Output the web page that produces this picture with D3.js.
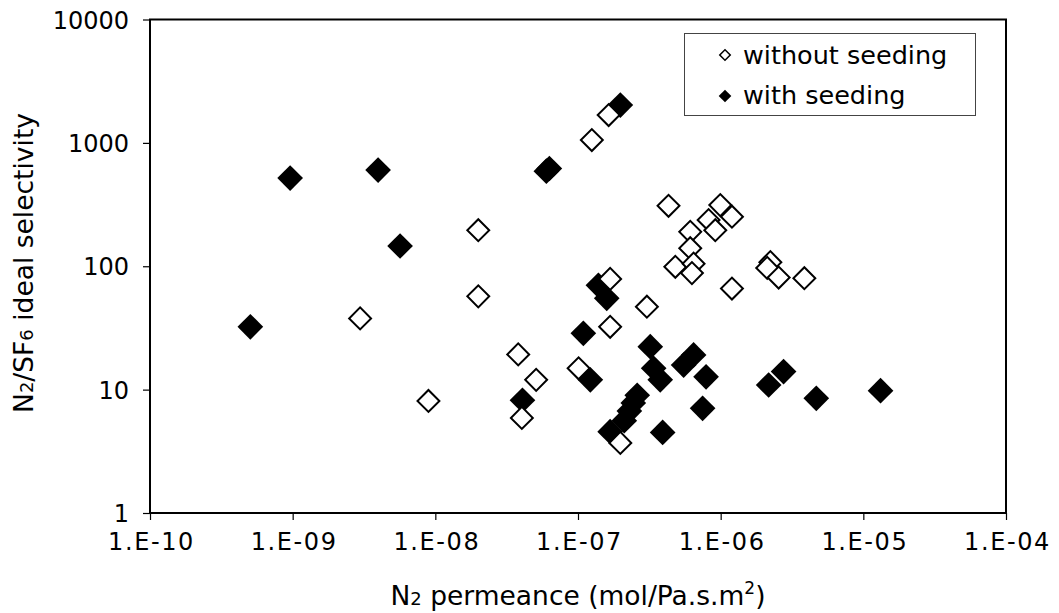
<!DOCTYPE html>
<html lang="en">
<head>
<meta charset="utf-8">
<title>N2/SF6 ideal selectivity vs N2 permeance</title>
<script src="https://d3js.org/d3.v7.min.js"></script>
<style>
  body { margin: 0; background: #fff; }
  text { font-family: Verdana, "DejaVu Sans", sans-serif; fill: #000; }
</style>
</head>
<body>
<script>

// without seeding (open diamonds)
var withoutX = [2.97e-9, 8.95e-9, 2.0e-8, 2.0e-8, 3.81e-8, 4.04e-8, 5.09e-8, 1.01e-7,
                1.25e-7, 1.64e-7, 1.68e-7, 1.68e-7, 1.98e-7, 3.04e-7, 4.31e-7, 4.81e-7,
                6.12e-7, 6.12e-7, 6.46e-7, 6.29e-7, 8.23e-7, 9.17e-7, 9.94e-7, 1.2e-6,
                1.2e-6, 2.23e-6, 2.12e-6, 2.55e-6, 3.86e-6];
var withoutY = [37.8, 8.1, 196, 57, 19.3, 5.9, 12.0, 14.9,
                1054, 1680, 79, 32.3, 3.7, 47, 309, 99,
                190, 140, 105, 88, 237, 196, 313, 252,
                66, 108, 97, 81, 80];

// with seeding (filled diamonds)
var withX = [5.05e-10, 9.6e-10, 3.97e-9, 5.66e-9, 4.08e-8, 6.0e-8, 6.3e-8, 1.98e-7,
             1.09e-7, 1.22e-7, 1.39e-7, 1.59e-7, 1.68e-7, 2.11e-7, 2.29e-7, 2.44e-7,
             2.60e-7, 3.21e-7, 3.39e-7, 3.77e-7, 3.92e-7, 5.5e-7, 6.46e-7, 7.9e-7,
             7.47e-7, 2.17e-6, 2.76e-6, 4.68e-6, 1.32e-5];
var withY = [32.3, 518, 602, 146, 8.2, 590, 620, 2024,
             28.6, 12.0, 70, 55, 4.56, 5.6, 6.7, 7.8,
             9.0, 22.3, 14.9, 12.0, 4.5, 15.8, 19.1, 12.7,
             7.05, 10.9, 14.0, 8.5, 9.8];

var xTicks = [1e-10, 1e-9, 1e-8, 1e-7, 1e-6, 1e-5, 1e-4];
var xTickLabels = ["1.E-10", "1.E-09", "1.E-08", "1.E-07", "1.E-06", "1.E-05", "1.E-04"];
var yTicks = [1, 10, 100, 1000, 10000];
var yTickLabels = ["1", "10", "100", "1000", "10000"];
var seriesNames = ["without seeding", "with seeding"];

var width = 1059, height = 613;
var plotLeft = 150, plotRight = 1006, plotTop = 19.5, plotBottom = 513;

var svg = d3.select("body").append("svg")
    .attr("width", width)
    .attr("height", height);

var x = d3.scaleLog().domain([1e-10, 1e-4]).range([plotLeft, plotRight]);
var y = d3.scaleLog().domain([1, 10000]).range([plotBottom, plotTop]);

// axes
var xAxis = d3.axisBottom(x)
    .tickValues(xTicks)
    .tickSize(7)
    .tickPadding(13)
    .tickFormat(function(d, i) { return xTickLabels[i]; });

var yAxis = d3.axisLeft(y)
    .tickValues(yTicks)
    .tickSize(7)
    .tickPadding(14)
    .tickFormat(function(d, i) { return yTickLabels[i]; });

var gx = svg.append("g")
    .attr("transform", "translate(0," + plotBottom + ")")
    .call(xAxis);
var gy = svg.append("g")
    .attr("transform", "translate(" + plotLeft + ",0)")
    .call(yAxis);

[gx, gy].forEach(function(g) {
  g.select(".domain").remove();
  g.selectAll(".tick line").attr("stroke", "#000").attr("stroke-width", 1.2);
  g.selectAll(".tick text")
    .style("font-family", "Verdana, 'DejaVu Sans', sans-serif")
    .style("font-size", "24px")
    .attr("fill", "#000");
});
gy.selectAll(".tick text").attr("dy", "0.36em");
gx.selectAll(".tick text").style("letter-spacing", "1.6px").attr("dx", "1");

// plot frame
svg.append("rect")
    .attr("x", plotLeft)
    .attr("y", plotTop)
    .attr("width", plotRight - plotLeft)
    .attr("height", plotBottom - plotTop)
    .attr("fill", "none")
    .attr("stroke", "#000")
    .attr("stroke-width", 2);

var filledSym = d3.symbol().type(d3.symbolSquare).size(330);
var openSym = d3.symbol().type(d3.symbolSquare).size(240);

var withData = withX.map(function(d, i) { return [d, withY[i]]; });
var withoutData = withoutX.map(function(d, i) { return [d, withoutY[i]]; });

svg.append("g").selectAll("path")
    .data(withData)
    .enter()
    .append("path")
    .attr("d", filledSym)
    .attr("transform", function(d) {
      return "translate(" + x(d[0]) + "," + y(d[1]) + ") rotate(45)";
    })
    .attr("fill", "#000");

svg.append("g").selectAll("path")
    .data(withoutData)
    .enter()
    .append("path")
    .attr("d", openSym)
    .attr("transform", function(d) {
      return "translate(" + x(d[0]) + "," + y(d[1]) + ") rotate(45)";
    })
    .attr("fill", "#fff")
    .attr("stroke", "#000")
    .attr("stroke-width", 2);

// legend
var legend = svg.append("g");
legend.append("rect")
    .attr("x", 684.5)
    .attr("y", 33.5)
    .attr("width", 291)
    .attr("height", 82)
    .attr("fill", "#fff")
    .attr("stroke", "#444")
    .attr("stroke-width", 1);

var legSmallOpen = d3.symbol().type(d3.symbolSquare).size(55);
var legSmallFilled = d3.symbol().type(d3.symbolSquare).size(80);

legend.append("path")
    .attr("d", legSmallOpen)
    .attr("transform", "translate(725,55) rotate(45)")
    .attr("fill", "#fff")
    .attr("stroke", "#000")
    .attr("stroke-width", 1.5);
legend.append("path")
    .attr("d", legSmallFilled)
    .attr("transform", "translate(725,96) rotate(45)")
    .attr("fill", "#000");

legend.selectAll("text.leg")
    .data(seriesNames)
    .enter()
    .append("text")
    .attr("class", "leg")
    .attr("x", 743)
    .attr("y", function(d, i) { return 64 + i * 40; })
    .style("font-size", "25.5px")
    .text(function(d) { return d; });

// y axis title
var yt = svg.append("text")
    .attr("transform", "translate(33,263) rotate(-90)")
    .attr("text-anchor", "middle")
    .style("font-size", "26.5px");
yt.append("tspan").text("N");
yt.append("tspan").text("2").style("font-size", "18px");
yt.append("tspan").text("/SF");
yt.append("tspan").text("6").style("font-size", "18px");
yt.append("tspan").text(" ideal selectivity");

// x axis title
var xt = svg.append("text")
    .attr("x", 578)
    .attr("y", 605)
    .attr("text-anchor", "middle")
    .style("font-size", "26.5px");
xt.append("tspan").text("N");
xt.append("tspan").text("2").style("font-size", "18px");
xt.append("tspan").text(" permeance (mol/Pa.s.m");
xt.append("tspan").text("2").style("font-size", "17px").attr("dy", "-11");
xt.append("tspan").text(")").attr("dy", "11");

</script>
</body>
</html>
